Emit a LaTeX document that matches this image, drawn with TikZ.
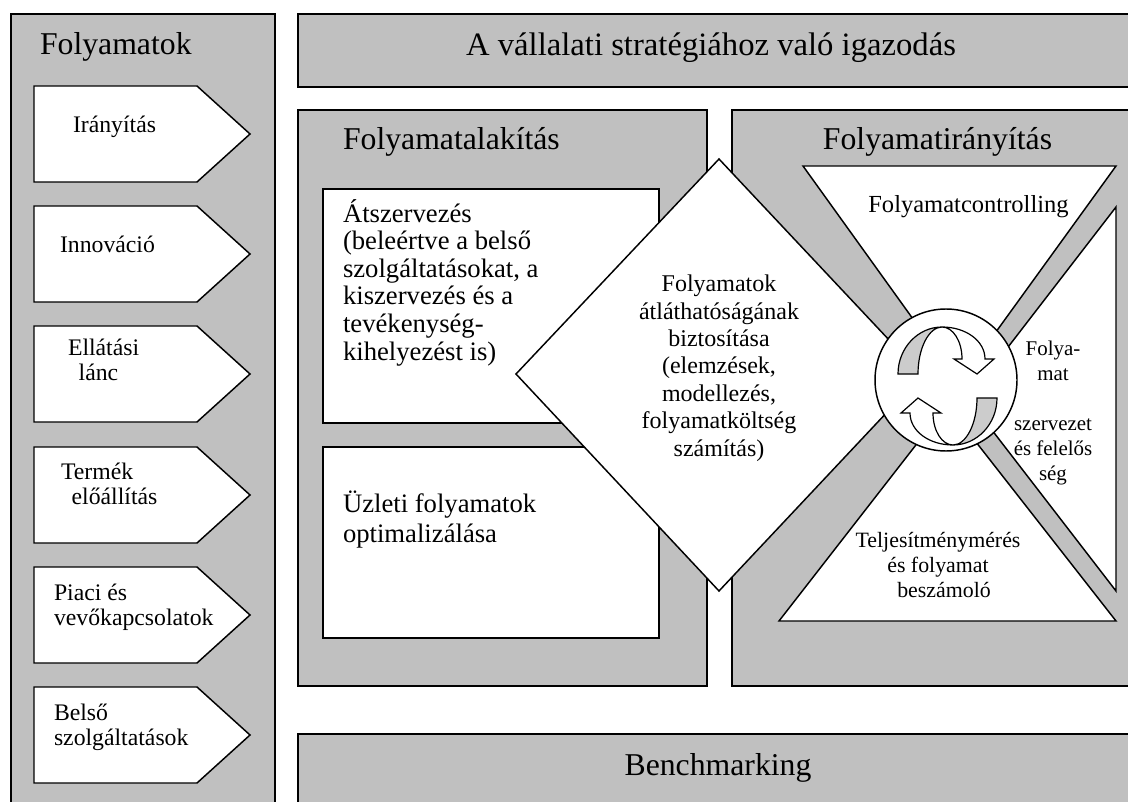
\documentclass[tikz,border=0pt]{standalone}
\usepackage{fontspec}
\setmainfont{Liberation Serif}
\definecolor{panelgray}{RGB}{192,192,192}
\definecolor{ribbongray}{RGB}{204,204,204}

% two-part curved ribbon arrow (back in grey, front with the head)
\newcommand{\ribbonarrow}{%
  \draw[ribbon, fill=ribbongray]
    (898,374) .. controls (898,348) and (918,327) .. (942,327)
    .. controls (929,327) and (918,348) .. (918,374) -- cycle;
  \draw[ribbon, fill=white]
    (942,327) .. controls (966,327) and (985,341) .. (985,359)
    -- (994,359) -- (977,374) -- (954,359) -- (962,359)
    .. controls (962,341) and (953,327) .. (942,327) -- cycle;
}

\begin{document}
\begin{tikzpicture}[x=0.75pt, y=-0.75pt, line join=miter,
  panel/.style={draw=black, fill=panelgray, line width=1.1pt},
  whitebox/.style={draw=black, fill=white, line width=1.1pt},
  ribbon/.style={draw=black, line width=0.9pt},
  txt/.style={inner sep=0pt, outer sep=0pt},
  title/.style={txt, font=\fontsize{23.8pt}{28pt}\selectfont},
  arrowtxt/.style={txt, align=left, anchor=base west, font=\fontsize{17.8pt}{18.75pt}\selectfont},
  boxtxt/.style={txt, align=left, anchor=base west, font=\fontsize{20pt}{20.7pt}\selectfont},
  difftxt/.style={txt, align=center, anchor=base, font=\fontsize{18pt}{20.55pt}\selectfont},
  smalltxt/.style={txt, align=center, anchor=base, font=\fontsize{15.7pt}{18.75pt}\selectfont},
  ]
\useasboundingbox (0,0) rectangle (1128,802);

% ---- left column: the processes ----
% (multi-line labels are placed by the baseline of their last line)
\draw[panel] (11,14) rectangle (275,815);
\node[title, anchor=base west] (proc) at (40,55) {Folyamatok};
\foreach \t in {86,206,326,447,567,687}
  \draw[whitebox] (34,\t) -- (197,\t) -- (250,{\t+48}) -- (197,{\t+96}) -- (34,{\t+96}) -- cycle;
\node[arrowtxt] (p1) at (73,133) {Irányítás};
\node[arrowtxt] (p2) at (60,253) {Innováció};
\node[arrowtxt] (p3) at (68,380) {Ellátási\\\hspace*{8pt}lánc};
\node[arrowtxt] (p4) at (61,504) {Termék\\\hspace*{8pt}előállítás};
\node[arrowtxt] (p5) at (54,625) {Piaci és\\vevőkapcsolatok};
\node[arrowtxt] (p6) at (54,745) {Belső\\szolgáltatások};

% ---- top and bottom bands ----
\draw[panel] (298,14) rectangle (1140,87);
\node[title, anchor=base, font=\fontsize{24.5pt}{28pt}\selectfont] (align) at (711,56) {A vállalati stratégiához való igazodás};
\draw[panel] (298,734) rectangle (1140,815);
\node[title, anchor=base] (bench) at (718,775) {Benchmarking};

% ---- process design ----
\draw[panel] (298,110) rectangle (707,686);
\node[title, anchor=base west] (design) at (343,150) {Folyamatalakítás};
\draw[whitebox] (323,189) rectangle (659,423);
\draw[whitebox] (323,447) rectangle (659,638);
\node[boxtxt] (reorg) at (343,360) {Átszervezés\\(beleértve a belső\\szolgáltatásokat, a\\kiszervezés és a\\tevékenység-\\kihelyezést is)};
\node[boxtxt, font=\fontsize{20pt}{22.5pt}\selectfont] (optim) at (343,542) {Üzleti folyamatok\\optimalizálása};

% ---- process management ----
\draw[panel] (732,110) rectangle (1140,686);
\node[title, anchor=base] (manage) at (937.5,150) {Folyamatirányítás};
\draw[whitebox] (803,166) -- (1116,166) -- (959,383) -- cycle;
\draw[whitebox] (1116,207) -- (1116,591) -- (968,399) -- cycle;
\draw[whitebox] (779,621) -- (1116,621) -- (947,405) -- cycle;

% ---- transparency diamond ----
\draw[whitebox] (719,159) -- (922,375) -- (719,591) -- (516,374) -- cycle;
\node[difftxt] (transp) at (719,456) {Folyamatok\\átláthatóságának\\biztosítása\\(elemzések,\\modellezés,\\folyamatköltség\\számítás)};

% ---- central cycle ----
\draw[whitebox] (946,380) circle [radius=71];
\ribbonarrow
\begin{scope}[rotate around={180:(947.5,386)}]
  \ribbonarrow
\end{scope}

% ---- management texts ----
\node[txt, anchor=base, font=\fontsize{18.4pt}{20pt}\selectfont] (ctrl) at (968.5,213) {Folyamatcontrolling};
\node[smalltxt] (orgA) at (1053,380) {Folya-\\mat};
\node[smalltxt] (orgB) at (1053,480) {szervezet\\és felelős\\ség};
\node[txt, align=center, anchor=base, font=\fontsize{16.4pt}{18.75pt}\selectfont] (perf) at (938,597) {Teljesítménymérés\\és folyamat\\\hspace*{9pt}beszámoló};
\end{tikzpicture}
\end{document}
